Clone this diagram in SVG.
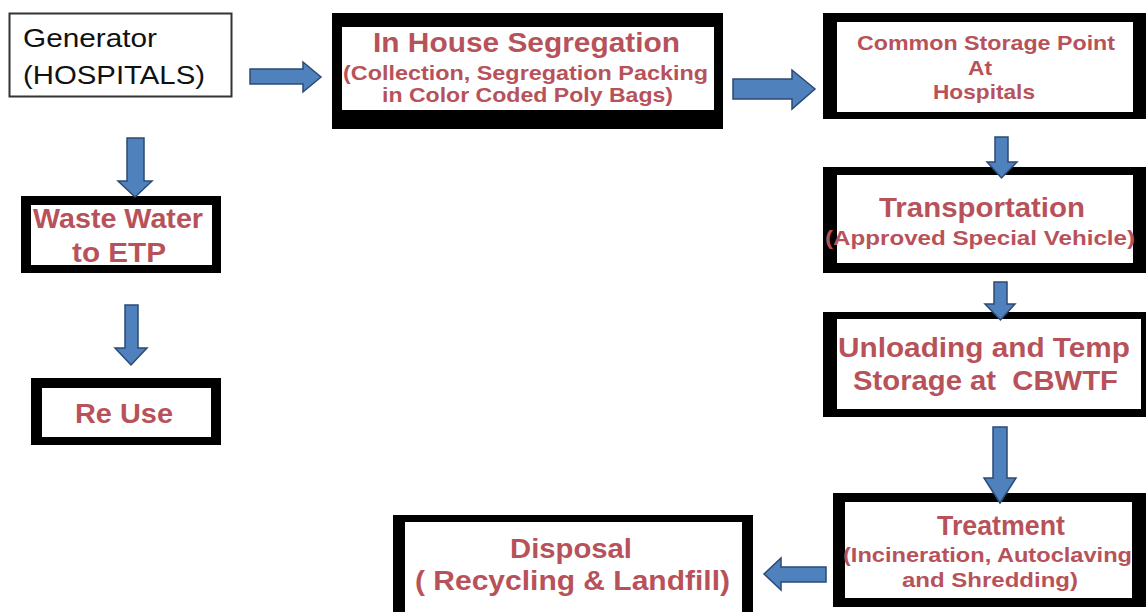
<svg xmlns="http://www.w3.org/2000/svg" width="1146" height="612" viewBox="0 0 1146 612">
<style>
.bg{fill:#ffffff}
.outer{fill:#000000}
.inner{fill:#ffffff}
.lbl{font-family:"Liberation Sans",Arial,sans-serif;font-weight:bold;fill:#b8525a}
.big{font-size:27px}
.sm{font-size:21px}
.gen{font-family:"Liberation Sans",Arial,sans-serif;font-size:26px;fill:#111111}
.arr{fill:#4f81bd;stroke:#2c4a74;stroke-width:1.5;stroke-linejoin:miter}
</style>
<rect class="bg" x="0" y="0" width="1146" height="612"/>

<g id="generator">
<rect x="9.5" y="13.5" width="222" height="83" fill="#ffffff" stroke="#333333" stroke-width="2"/>
<text class="gen" x="23" y="47" textLength="134" lengthAdjust="spacingAndGlyphs">Generator</text>
<text class="gen" x="23" y="84" textLength="182" lengthAdjust="spacingAndGlyphs">(HOSPITALS)</text>
</g>

<g id="segregation">
<rect class="outer" x="332" y="13" width="391" height="116"/>
<rect class="inner" x="342" y="27" width="372" height="83"/>
<text class="lbl big" x="373" y="52" textLength="307" lengthAdjust="spacingAndGlyphs">In House Segregation</text>
<text class="lbl sm" x="343" y="80" textLength="365" lengthAdjust="spacingAndGlyphs">(Collection, Segregation Packing</text>
<text class="lbl sm" x="382" y="102" textLength="291" lengthAdjust="spacingAndGlyphs">in Color Coded Poly Bags)</text>
</g>

<g id="storage">
<rect class="outer" x="823" y="13" width="323" height="106"/>
<rect class="inner" x="837" y="22" width="296" height="90"/>
<text class="lbl sm" x="857" y="50" textLength="258" lengthAdjust="spacingAndGlyphs">Common Storage Point</text>
<text class="lbl sm" x="968" y="75" textLength="24" lengthAdjust="spacingAndGlyphs">At</text>
<text class="lbl sm" x="933" y="99" textLength="102" lengthAdjust="spacingAndGlyphs">Hospitals</text>
</g>

<g id="transportation">
<rect class="outer" x="823" y="167" width="323" height="106"/>
<rect class="inner" x="837" y="175" width="296" height="88"/>
<text class="lbl big" x="879" y="217" textLength="206" lengthAdjust="spacingAndGlyphs">Transportation</text>
<text class="lbl sm" x="825" y="245" textLength="310" lengthAdjust="spacingAndGlyphs">(Approved Special Vehicle)</text>
</g>

<g id="unloading">
<rect class="outer" x="823" y="312" width="323" height="105"/>
<rect class="inner" x="837" y="319" width="304" height="90"/>
<text class="lbl big" x="838" y="357" textLength="292" lengthAdjust="spacingAndGlyphs">Unloading and Temp</text>
<text class="lbl big" x="853" y="390" textLength="265" lengthAdjust="spacingAndGlyphs" style="white-space:pre">Storage at  CBWTF</text>
</g>

<g id="treatment">
<rect class="outer" x="833" y="493" width="313" height="114"/>
<rect class="inner" x="845" y="502" width="287" height="96"/>
<text class="lbl big" x="937" y="535" textLength="128" lengthAdjust="spacingAndGlyphs">Treatment</text>
<text class="lbl sm" x="843" y="562" textLength="289" lengthAdjust="spacingAndGlyphs">(Incineration, Autoclaving</text>
<text class="lbl sm" x="902" y="587" textLength="176" lengthAdjust="spacingAndGlyphs">and Shredding)</text>
</g>

<g id="disposal">
<rect class="outer" x="393" y="515" width="360" height="110"/>
<rect class="inner" x="405" y="522" width="337" height="100"/>
<text class="lbl big" x="510" y="558" textLength="122" lengthAdjust="spacingAndGlyphs">Disposal</text>
<text class="lbl big" x="415" y="590" textLength="315" lengthAdjust="spacingAndGlyphs">( Recycling &amp; Landfill)</text>
</g>

<g id="wastewater">
<rect class="outer" x="21" y="196" width="200" height="77"/>
<rect class="inner" x="31" y="205" width="181" height="60"/>
<text class="lbl big" x="33" y="228" textLength="170" lengthAdjust="spacingAndGlyphs">Waste Water</text>
<text class="lbl big" x="72" y="262" textLength="94" lengthAdjust="spacingAndGlyphs">to ETP</text>
</g>

<g id="reuse">
<rect class="outer" x="31" y="378" width="190" height="67"/>
<rect class="inner" x="42" y="388" width="169" height="49"/>
<text class="lbl big" x="75" y="423" textLength="98" lengthAdjust="spacingAndGlyphs">Re Use</text>
</g>

<g id="connectors">
<polygon class="arr" points="250,69 303,69 303,62 321,77 303,92 303,84 250,84"/>
<polygon class="arr" points="733,79 792,79 792,70 815,89 792,109 792,99 733,99"/>
<polygon class="arr" points="995,137 1008,137 1008,162 1017,162 1001.5,178 987,162 995,162"/>
<polygon class="arr" points="994,282 1007,282 1007,304 1015,304 1000.5,320 985,304 994,304"/>
<polygon class="arr" points="993,427 1007,427 1007,478 1016,478 1000,503 984,478 993,478"/>
<polygon class="arr" points="826,567 781,567 781,558 764,574 781,590 781,582 826,582"/>
<polygon class="arr" points="127,138 144,138 144,181 152,181 135,197 118,181 127,181"/>
<polygon class="arr" points="125,305 138,305 138,348 147,348 131,365 115,348 125,348"/>
</g>
</svg>
